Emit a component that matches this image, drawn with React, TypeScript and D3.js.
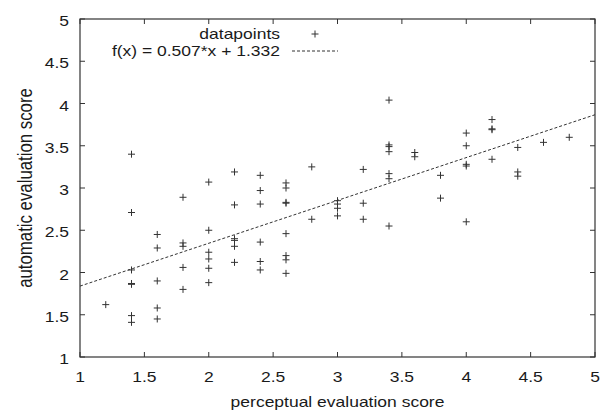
import React, { useEffect, useRef } from "react";
import * as d3 from "d3";

// perceptual scores (x) and automatic scores (y)
const xValues = [
  1.2,
  1.4, 1.4, 1.4, 1.4, 1.4, 1.4, 1.4,
  1.6, 1.6, 1.6, 1.6, 1.6,
  1.8, 1.8, 1.8, 1.8, 1.8,
  2.0, 2.0, 2.0, 2.0, 2.0, 2.0,
  2.2, 2.2, 2.2, 2.2, 2.2, 2.2,
  2.4, 2.4, 2.4, 2.4, 2.4, 2.4,
  2.6, 2.6, 2.6, 2.6, 2.6, 2.6, 2.6, 2.6,
  2.8, 2.8,
  3.0, 3.0, 3.0, 3.0,
  3.2, 3.2, 3.2,
  3.4, 3.4, 3.4, 3.4, 3.4, 3.4, 3.4,
  3.6, 3.6,
  3.8, 3.8,
  4.0, 4.0, 4.0, 4.0, 4.0,
  4.2, 4.2, 4.2, 4.2,
  4.4, 4.4, 4.4,
  4.6,
  4.8,
];
const yValues = [
  1.62,
  3.4, 2.71, 2.03, 1.87, 1.86, 1.49, 1.41,
  2.45, 2.29, 1.9, 1.58, 1.45,
  2.89, 2.35, 2.31, 2.06, 1.8,
  3.07, 2.5, 2.24, 2.16, 2.05, 1.88,
  3.19, 2.8, 2.4, 2.38, 2.31, 2.12,
  3.15, 2.97, 2.81, 2.36, 2.13, 2.03,
  3.06, 3.0, 2.83, 2.82, 2.46, 2.2, 2.15, 1.99,
  3.25, 2.63,
  2.85, 2.81, 2.76, 2.67,
  3.22, 2.82, 2.63,
  4.04, 3.51, 3.49, 3.43, 3.17, 3.11, 2.55,
  3.42, 3.37,
  3.15, 2.88,
  3.65, 3.5, 3.28, 3.26, 2.6,
  3.81, 3.7, 3.69, 3.34,
  3.48, 3.19, 3.14,
  3.54,
  3.6,
];

// fitted line
const slope = 0.507;
const intercept = 1.332;
const fitLabel = "f(x) = 0.507*x + 1.332";
const pointsLabel = "datapoints";

const xTicks = [1, 1.5, 2, 2.5, 3, 3.5, 4, 4.5, 5];
const yTicks = [1, 1.5, 2, 2.5, 3, 3.5, 4, 4.5, 5];

const W = 603;
const H = 413;

const App = () => {
  const svgRef = useRef(null);

  useEffect(() => {
    const margin = { top: 19, right: 8, bottom: 56, left: 80 };
    const width = W - margin.left - margin.right;
    const height = H - margin.top - margin.bottom;
    const ink = "#333";
    const font = "'Liberation Sans', Arial, Helvetica, sans-serif";
    const stretch = 1.25; // the reference text is drawn wide

    const root = d3.select(svgRef.current);
    root.selectAll("*").remove();
    const svg = root
      .append("g")
      .attr("transform", `translate(${margin.left},${margin.top})`);

    const x = d3.scaleLinear().domain([1, 5]).range([0, width]);
    const y = d3.scaleLinear().domain([1, 5]).range([height, 0]);

    // stretched horizontal text helper
    const wideText = (g, tx, ty, str, anchor) => {
      g.append("text")
        .attr("transform", `translate(${tx},${ty}) scale(${stretch},1)`)
        .attr("text-anchor", anchor)
        .attr("font-family", font)
        .attr("font-size", 14)
        .attr("fill", "#1a1a1a")
        .text(str);
    };

    // ticks (inward, on all four sides)
    const tl = 5;
    xTicks.forEach((t) => {
      svg.append("line").attr("x1", x(t)).attr("x2", x(t))
        .attr("y1", height).attr("y2", height - tl).attr("stroke", ink);
      svg.append("line").attr("x1", x(t)).attr("x2", x(t))
        .attr("y1", 0).attr("y2", tl).attr("stroke", ink);
      wideText(svg, x(t), height + 25, String(t), "middle");
    });
    yTicks.forEach((t) => {
      svg.append("line").attr("x1", 0).attr("x2", tl)
        .attr("y1", y(t)).attr("y2", y(t)).attr("stroke", ink);
      svg.append("line").attr("x1", width).attr("x2", width - tl)
        .attr("y1", y(t)).attr("y2", y(t)).attr("stroke", ink);
      wideText(svg, -11, y(t) + 7, String(t), "end");
    });

    // frame
    svg.append("rect")
      .attr("width", width)
      .attr("height", height)
      .attr("fill", "none")
      .attr("stroke", ink)
      .attr("stroke-width", 1.2);

    // fit line
    const fit = d3.line()
      .x((d) => x(d))
      .y((d) => y(slope * d + intercept));
    svg.append("path")
      .datum([1, 5])
      .attr("fill", "none")
      .attr("stroke", ink)
      .attr("stroke-width", 1)
      .attr("stroke-dasharray", "3,2")
      .attr("d", fit);

    // datapoints as "+" marks
    const s = 3.5;
    const plus = (g, px, py) => {
      g.append("path")
        .attr("d", `M${px - s},${py}H${px + s}M${px},${py - s}V${py + s}`)
        .attr("stroke", ink)
        .attr("stroke-width", 1)
        .attr("fill", "none");
    };
    xValues.forEach((v, i) => plus(svg, x(v), y(yValues[i])));

    // legend
    wideText(root, 280, 39, pointsLabel, "end");
    plus(root, 315, 34);
    wideText(root, 280, 56, fitLabel, "end");
    root.append("line")
      .attr("x1", 292).attr("x2", 338)
      .attr("y1", 51).attr("y2", 51)
      .attr("stroke", ink)
      .attr("stroke-dasharray", "3,2");

    // axis titles
    wideText(root, margin.left + width / 2, 407, "perceptual evaluation score", "middle");
    root.append("text")
      .attr("transform", `translate(32,${margin.top + height / 2}) rotate(-90) scale(1,${stretch})`)
      .attr("text-anchor", "middle")
      .attr("font-family", font)
      .attr("font-size", 16.8)
      .attr("fill", "#1a1a1a")
      .text("automatic evaluation score");
  }, []);

  return (
    <svg
      ref={svgRef}
      width={W}
      height={H}
      style={{ position: "absolute", left: 0, top: 0, background: "#fff" }}
    ></svg>
  );
};

export default App;
